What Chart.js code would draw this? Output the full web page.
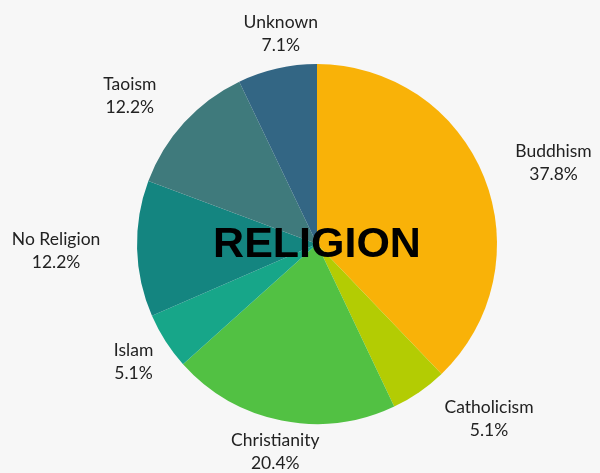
<!DOCTYPE html>
<html lang="en">
<head>
  <meta charset="UTF-8">
  <title>Religion</title>
  <script src="https://cdn.jsdelivr.net/npm/chart.js"></script>
  <style>
    html, body { margin: 0; padding: 0; background: #f7f7f7; }
    .chart-container { position: relative; width: 600px; height: 473px; }
  </style>
</head>
<body>
  <div class="chart-container">
    <canvas id="pieChart"></canvas>
  </div>

  <script>
    // Chart data
    const religions = ['Buddhism', 'Catholicism', 'Christianity', 'Islam', 'No Religion', 'Taoism', 'Unknown'];
    const shares = [37.8, 5.1, 20.4, 5.1, 12.2, 12.2, 7.1];
    const sliceColors = ['#f9b208', '#b3cc03', '#52c143', '#17a689', '#148580', '#3f7a7c', '#336684'];

    // Draws name + percent outside each slice, and the big title in the middle
    const outsideLabels = {
      id: 'outsideLabels',
      afterDraw(chart, args, opts) {
        const ctx = chart.ctx;
        const meta = chart.getDatasetMeta(0);
        ctx.save();
        ctx.fillStyle = '#222';
        ctx.font = '17.5px Lato';
        ctx.textAlign = 'center';
        ctx.textBaseline = 'middle';
        meta.data.forEach((arc, i) => {
          const mid = (arc.startAngle + arc.endAngle) / 2 + (opts.angleNudge[i] || 0) * Math.PI / 180;
          const dist = arc.outerRadius + opts.offsets[i];
          const x = arc.x + Math.cos(mid) * dist;
          const y = arc.y + Math.sin(mid) * dist;
          ctx.fillText(chart.data.labels[i], x, y - 11.5);
          ctx.fillText(chart.data.datasets[0].data[i].toFixed(1) + '%', x, y + 11.5);
        });
        const c = meta.data[0];
        ctx.fillStyle = '#000';
        ctx.font = 'bold 43px "Liberation Sans"';
        ctx.fillText('RELIGION', c.x, c.y + 1);
        ctx.restore();
      }
    };

    new Chart(document.getElementById('pieChart').getContext('2d'), {
      type: 'pie',
      data: {
        labels: religions,
        datasets: [{
          data: shares,
          backgroundColor: sliceColors,
          borderWidth: 0
        }]
      },
      options: {
        responsive: true,
        maintainAspectRatio: false,
        animation: false,
        layout: { padding: { left: 137, right: 103, top: 64, bottom: 49 } },
        plugins: {
          legend: { display: false },
          tooltip: { enabled: false },
          outsideLabels: {
            offsets: [70, 65, 32, 38, 81, 59, 33],
            angleNudge: [3, -10, 0, 0, 0, -4, 3]
          }
        }
      },
      plugins: [outsideLabels]
    });
  </script>
</body>
</html>
